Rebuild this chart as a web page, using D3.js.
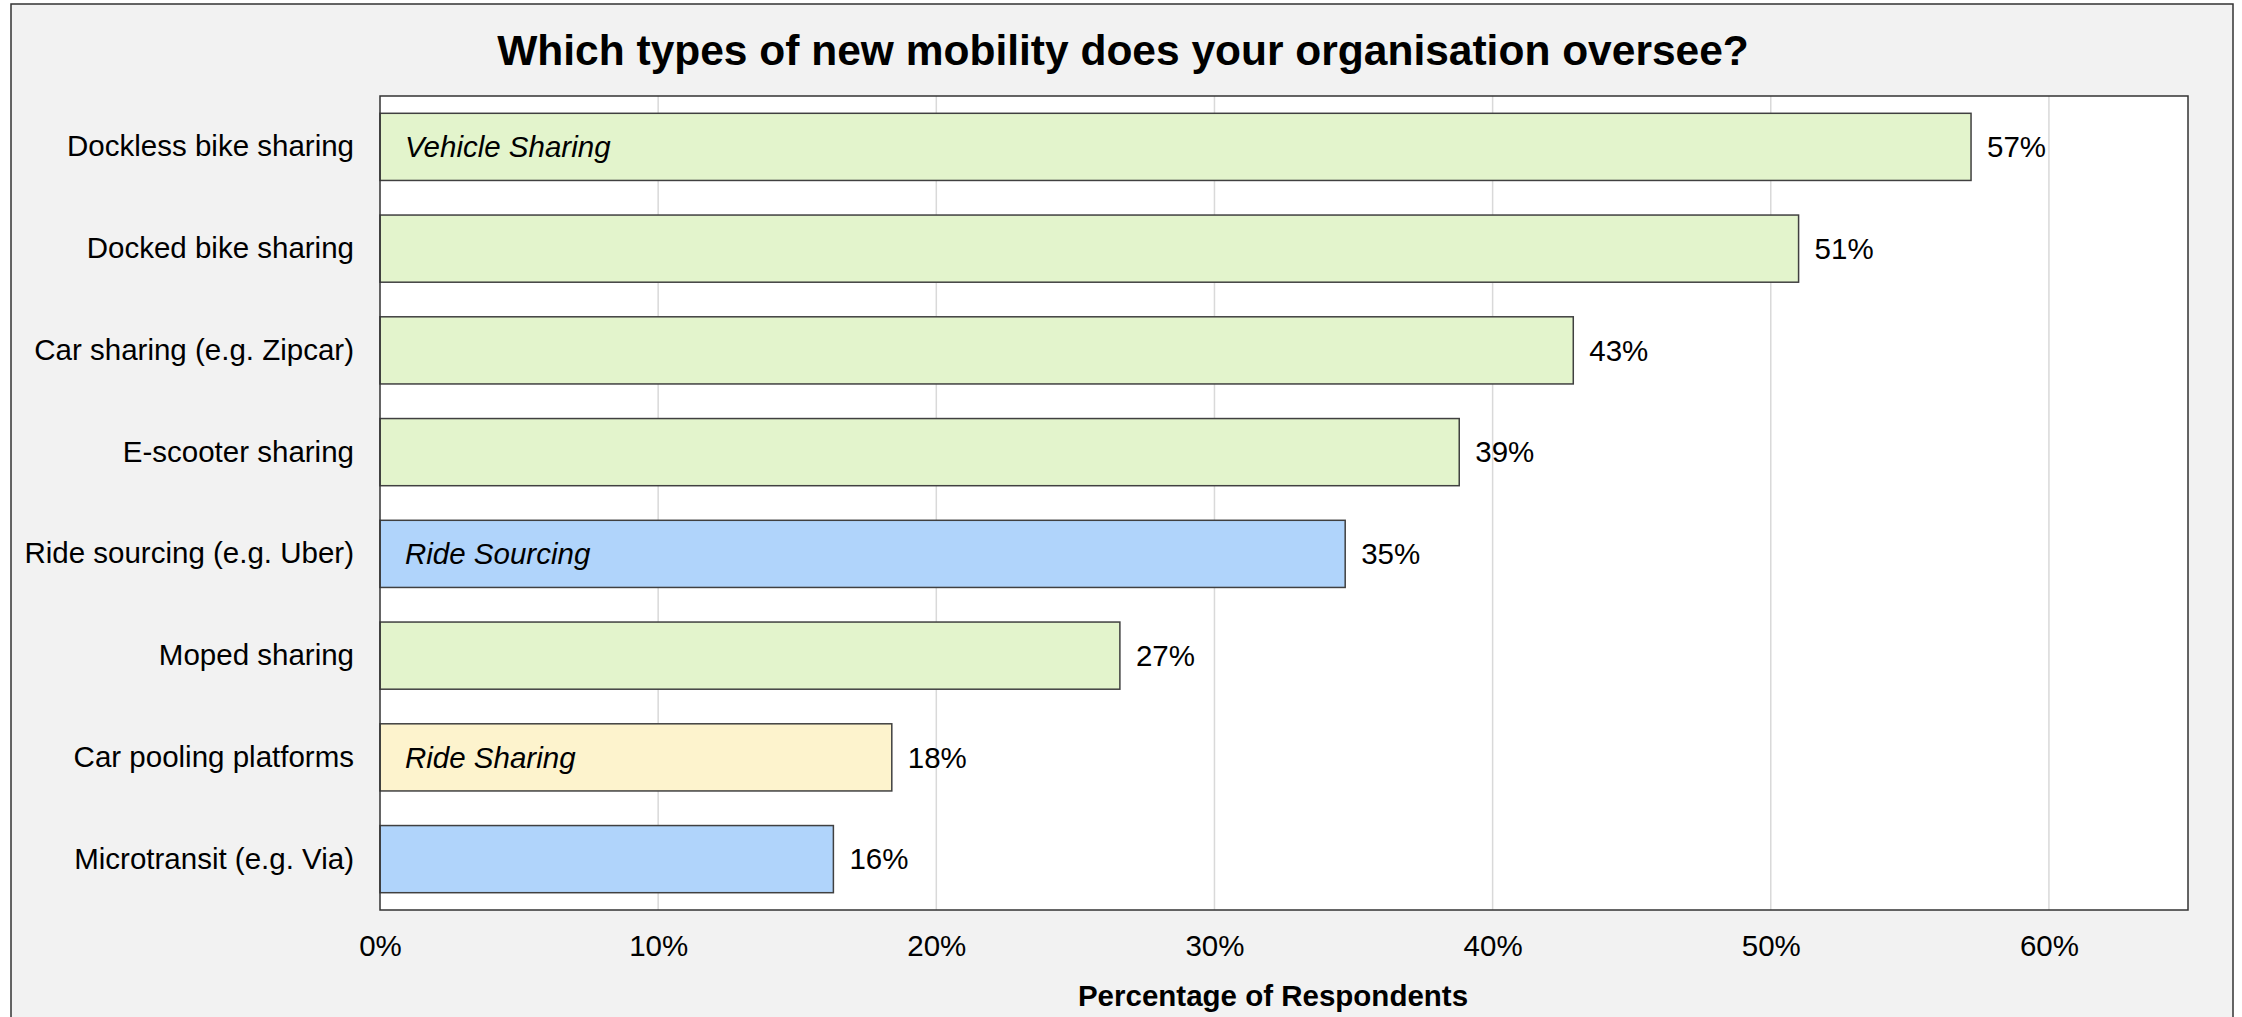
<!DOCTYPE html>
<html>
<head>
<meta charset="utf-8">
<script src="https://cdn.jsdelivr.net/npm/d3@7"></script>
<style>
  body { margin: 0; background: #fff; }
  text { font-family: "Liberation Sans", Arial, sans-serif; fill: #000; }
</style>
</head>
<body>
<div id="content"></div>
<script>
let width = 2242;
let height = 1017;
let margin = ({top: 96, right: 54, bottom: 107, left: 380});

// Chart data
let categories = ["Dockless bike sharing", "Docked bike sharing", "Car sharing (e.g. Zipcar)",
    "E-scooter sharing", "Ride sourcing (e.g. Uber)", "Moped sharing",
    "Car pooling platforms", "Microtransit (e.g. Via)"];
let values = [57.2, 51.0, 42.9, 38.8, 34.7, 26.6, 18.4, 16.3];
let groups = ["Vehicle Sharing", "Vehicle Sharing", "Vehicle Sharing", "Vehicle Sharing",
    "Ride Sourcing", "Vehicle Sharing", "Ride Sharing", "Ride Sourcing"];
let groupLabels = ["Vehicle Sharing", "", "", "", "Ride Sourcing", "", "Ride Sharing", ""];
let xTicks = [0, 10, 20, 30, 40, 50, 60];

let labelSize = "29.5px";

let colors = d3.scaleOrdinal()
    .domain(["Vehicle Sharing", "Ride Sourcing", "Ride Sharing"])
    .range(["#e3f4cc", "#b0d4fb", "#fdf3cd"]);

let data = categories.map(function(c, i) {
    return {name: c, value: values[i], group: groups[i], tag: groupLabels[i]};
});

let svg = d3.select("#content")
    .append("svg")
    .attr("width", width)
    .attr("height", height);

// Outer panel
svg.append("rect")
    .attr("x", 11)
    .attr("y", 4)
    .attr("width", 2222)
    .attr("height", 1040)
    .attr("fill", "#f2f2f2")
    .attr("stroke", "#333")
    .attr("stroke-width", 1.5);

let xScale = d3.scaleLinear()
    .domain([0, 65])
    .range([margin.left, width - margin.right]);

let yScale = d3.scaleBand()
    .domain(categories)
    .range([margin.top, height - margin.bottom])
    .paddingInner(0.34)
    .paddingOuter(0.17);

// Plot background
svg.append("rect")
    .attr("x", xScale(0))
    .attr("y", margin.top)
    .attr("width", xScale(65) - xScale(0))
    .attr("height", height - margin.bottom - margin.top)
    .attr("fill", "#fff");

// Gridlines
svg.append("g")
    .selectAll("line")
    .data(xTicks.slice(1))
    .enter()
    .append("line")
    .attr("x1", function(d) { return xScale(d); })
    .attr("x2", function(d) { return xScale(d); })
    .attr("y1", margin.top)
    .attr("y2", height - margin.bottom)
    .attr("stroke", "#d9d9d9")
    .attr("stroke-width", 1.5);

// Bars
svg.append("g")
    .selectAll("rect")
    .data(data)
    .enter()
    .append("rect")
    .attr("x", xScale(0))
    .attr("y", function(d) { return yScale(d.name); })
    .attr("width", function(d) { return xScale(d.value) - xScale(0); })
    .attr("height", yScale.bandwidth())
    .attr("fill", function(d) { return colors(d.group); })
    .attr("stroke", "#404040")
    .attr("stroke-width", 1.5);

// Plot frame
svg.append("rect")
    .attr("x", xScale(0))
    .attr("y", margin.top)
    .attr("width", xScale(65) - xScale(0))
    .attr("height", height - margin.bottom - margin.top)
    .attr("fill", "none")
    .attr("stroke", "#333")
    .attr("stroke-width", 1.5);

// Group tags inside bars
svg.append("g")
    .selectAll("text")
    .data(data.filter(function(d) { return d.tag; }))
    .enter()
    .append("text")
    .attr("x", xScale(0) + 25)
    .attr("y", function(d) { return yScale(d.name) + yScale.bandwidth() / 2; })
    .attr("dy", "0.35em")
    .style("font-size", labelSize)
    .style("font-style", "italic")
    .text(function(d) { return d.tag; });

// Value labels
svg.append("g")
    .selectAll("text")
    .data(data)
    .enter()
    .append("text")
    .attr("x", function(d) { return xScale(d.value) + 16; })
    .attr("y", function(d) { return yScale(d.name) + yScale.bandwidth() / 2; })
    .attr("dy", "0.35em")
    .style("font-size", labelSize)
    .text(function(d) { return d3.format(".0f")(d.value) + "%"; });

// Category labels
let yAxis = d3.axisLeft(yScale).tickSize(0).tickPadding(26);
svg.append("g")
    .attr("transform", "translate(" + margin.left + ",0)")
    .call(yAxis)
    .call(function(g) { g.select(".domain").remove(); })
    .selectAll("text")
    .attr("font-family", null)
    .style("font-size", labelSize);

// X axis tick labels
let xAxis = d3.axisBottom(xScale)
    .tickValues(xTicks)
    .tickSize(0)
    .tickPadding(25)
    .tickFormat(function(d) { return d + "%"; });
svg.append("g")
    .attr("transform", "translate(0," + (height - margin.bottom) + ")")
    .call(xAxis)
    .call(function(g) { g.select(".domain").remove(); })
    .selectAll("text")
    .attr("font-family", null)
    .style("font-size", labelSize);

// Title
svg.append("text")
    .attr("x", 1123)
    .attr("y", 50)
    .attr("dy", "0.35em")
    .attr("text-anchor", "middle")
    .style("font-size", "42.5px")
    .style("font-weight", "bold")
    .text("Which types of new mobility does your organisation oversee?");

// Axis title
svg.append("text")
    .attr("x", (xScale(0) + xScale(65)) / 2 - 11)
    .attr("y", 996)
    .attr("dy", "0.35em")
    .attr("text-anchor", "middle")
    .style("font-size", labelSize)
    .style("font-weight", "bold")
    .text("Percentage of Respondents");
</script>
</body>
</html>
